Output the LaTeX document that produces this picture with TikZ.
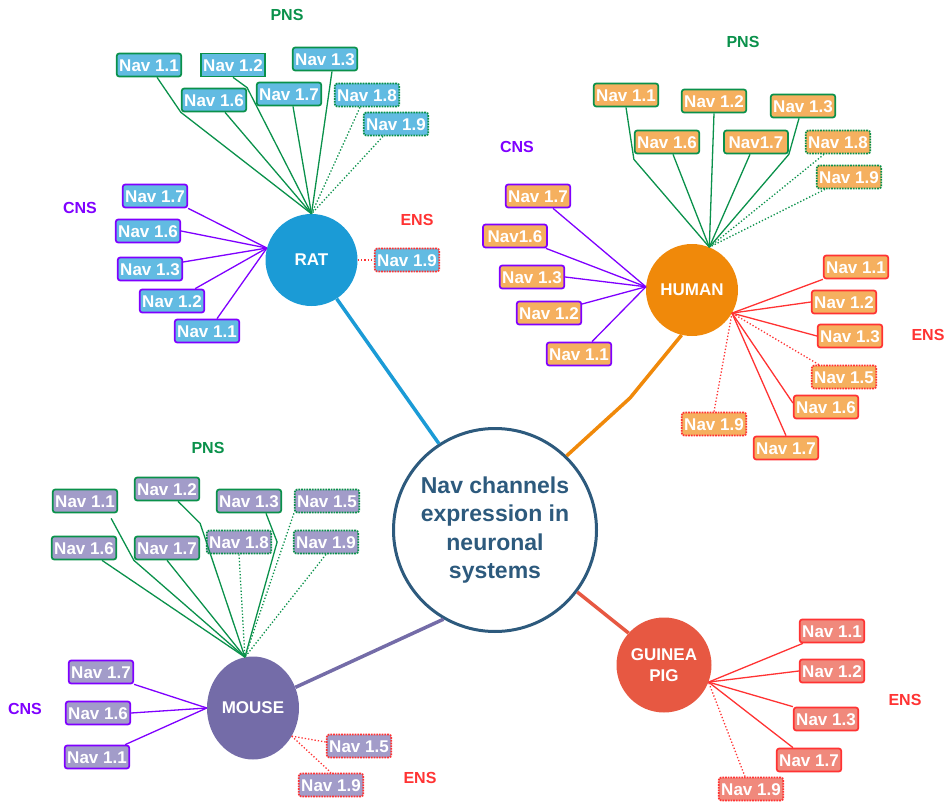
\documentclass[tikz,border=0pt]{standalone}
\usepackage{fontspec}
\setmainfont{Liberation Sans}
\usetikzlibrary{shapes.geometric}

\definecolor{pnsgreen}{RGB}{10,145,75}
\definecolor{cnspurple}{RGB}{127,0,255}
\definecolor{ensred}{RGB}{255,51,51}
\definecolor{ratblue}{RGB}{27,155,214}
\definecolor{ratlight}{RGB}{98,187,226}
\definecolor{humorange}{RGB}{240,137,10}
\definecolor{humlight}{RGB}{245,176,95}
\definecolor{mouviolet}{RGB}{116,108,168}
\definecolor{moulight}{RGB}{162,156,201}
\definecolor{guired}{RGB}{231,88,66}
\definecolor{guilight}{RGB}{240,137,124}
\definecolor{hubnavy}{RGB}{45,90,125}

\begin{document}
\begin{tikzpicture}[x=1pt,y=-1pt,
    nav/.style={draw, rounded corners=2.5pt, line width=1.7pt, text=white,
        font=\bfseries\fontsize{17}{17}\selectfont, inner xsep=2.5pt, inner ysep=0pt,
        minimum width=64pt, minimum height=23pt, text height=12.5pt, text depth=0pt},
    ratbox/.style={nav, fill=ratlight},
    humbox/.style={nav, fill=humlight},
    moubox/.style={nav, fill=moulight},
    guibox/.style={nav, fill=guilight},
    wire/.style={line width=1.3pt},
    pnswire/.style={wire, pnsgreen},
    cnswire/.style={wire, cnspurple},
    enswire/.style={wire, ensred},
    trunk/.style={line width=3.5pt},
    lab/.style={font=\bfseries\fontsize{16}{16}\selectfont},
    animal/.style={circle, inner sep=0pt, text=white, align=center,
        font=\bfseries\fontsize{17}{21}\selectfont}]
    \useasboundingbox (0,0) rectangle (947,802);

    % centre and animals
    \node[circle, draw=hubnavy, line width=3pt, minimum size=203pt, inner sep=0pt, align=center,
        text=hubnavy, font=\bfseries\fontsize{23}{28.5}\selectfont] (nav) at (495,530)
        {Nav channels\\expression in\\neuronal\\systems};
    \node[animal, fill=ratblue, minimum size=92pt] (rat) at (311.5,260) {RAT};
    \node[animal, fill=humorange, minimum size=92pt] (human) at (692,290) {HUMAN};
    \node[animal, ellipse, fill=mouviolet, minimum width=92pt, minimum height=103pt] (mouse) at (253,708) {MOUSE};
    \node[animal, fill=guired, minimum size=95pt] (guinea) at (664,665) {GUINEA\\PIG};

    \draw[trunk, ratblue] (nav.123) -- (rat.303.5);
    \draw[trunk, humorange] (nav.46) -- (630,398) -- (human.257);
    \draw[trunk, mouviolet] (nav.240) -- (mouse.26);
    \draw[trunk, guired] (nav.323) -- (guinea.138);

    % labels
    \foreach \n/\x/\y/\t/\c in {ratpns/287/15/PNS/pnsgreen, ratcns/80/208/CNS/cnspurple, ratens/417/220/ENS/ensred,
        humpns/743/42/PNS/pnsgreen, humcns/517/147/CNS/cnspurple, humens/928/335/ENS/ensred,
        moupns/208/448/PNS/pnsgreen, moucns/25/709/CNS/cnspurple, mouens/420/778/ENS/ensred,
        guiens/905/700/ENS/ensred}
        \node[lab, \c] (\n) at (\x,\y) {\t};

    % rat
    \foreach \n/\x/\y/\t/\s in {r11/149/65/Nav 1.1/solid, r12/233/65/Nav 1.2/sharp corners, r13/325/59/Nav 1.3/solid,
        r16/214/100/Nav 1.6/solid, r17/289/94/Nav 1.7/solid, r18/367/95/Nav 1.8/densely dotted, r19/396/124/Nav 1.9/densely dotted}
        \node[ratbox, draw=pnsgreen, \s] (\n) at (\x,\y) {\t};
    \foreach \n/\x/\y/\t in {rc7/155/196/Nav 1.7, rc6/148/231/Nav 1.6, rc3/150/269/Nav 1.3, rc2/172/301/Nav 1.2, rc1/207/331/Nav 1.1}
        \node[ratbox, draw=cnspurple] (\n) at (\x,\y) {\t};
    \node[ratbox, draw=ensred, densely dotted] (re9) at (407,260) {Nav 1.9};

    \draw[pnswire] ([xshift=8pt]r11.south) -- (r16.south west) -- (rat.north);
    \draw[pnswire] (r12.south) -- (r16.north east) -- (rat.north);
    \draw[pnswire] ([xshift=11pt]r16.south) -- (rat.north);
    \draw[pnswire] ([xshift=4pt]r17.south) -- (rat.north);
    \draw[pnswire] ([xshift=7pt]r13.south) -- (rat.north);
    \draw[pnswire, dotted] ([xshift=-7pt]r18.south) -- (rat.north);
    \draw[pnswire, dotted] ([xshift=-13pt]r19.south) -- (rat.north);
    \draw[cnswire] (rc7.south east) -- (rat.165);
    \draw[cnswire] (rc6.east) -- (rat.165);
    \draw[cnswire] ([yshift=7pt]rc3.east) -- (rat.165);
    \draw[cnswire] ([xshift=-10pt]rc2.north east) -- (rat.165);
    \draw[cnswire] ([xshift=10pt]rc1.north) -- (rat.165);
    \draw[enswire, dotted] (rat.east) -- (re9.west);

    % human
    \foreach \n/\x/\y/\t/\s in {h11/626/95/Nav 1.1/solid, h12/714/101/Nav 1.2/solid, h13/803/106/Nav 1.3/solid,
        h16/667/142/Nav 1.6/solid, h17/756/142/Nav1.7/solid, h18/838/142/Nav 1.8/densely dotted, h19/849/177/Nav 1.9/densely dotted}
        \node[humbox, draw=pnsgreen, \s] (\n) at (\x,\y) {\t};
    \foreach \n/\x/\y/\t in {hc7/538/196/Nav 1.7, hc6/515/236/Nav1.6, hc3/532/277/Nav 1.3, hc2/549/313/Nav 1.2, hc1/579/354/Nav 1.1}
        \node[humbox, draw=cnspurple] (\n) at (\x,\y) {\t};
    \foreach \n/\x/\y/\t/\s in {he1/856/267/Nav 1.1/solid, he2/844/302/Nav 1.2/solid, he3/850/336/Nav 1.3/solid,
        he5/844/377/Nav 1.5/densely dotted, he6/826/407/Nav 1.6/solid, he7/786/448/Nav 1.7/solid, he9/714/424/Nav 1.9/densely dotted}
        \node[humbox, draw=ensred, \s] (\n) at (\x,\y) {\t};

    \draw[pnswire] (h11.south) -- ([yshift=-5pt]h16.south west) -- (human.68);
    \draw[pnswire] ([xshift=6pt]h16.south) -- (human.68);
    \draw[pnswire] (h12.south) -- (human.68);
    \draw[pnswire] ([xshift=-6pt]h17.south) -- (human.68);
    \draw[pnswire] ([xshift=-4pt]h13.south) -- (h17.south east) -- (human.68);
    \draw[pnswire, dotted] ([xshift=-14pt]h18.south) -- (human.68);
    \draw[pnswire, dotted] ([xshift=-24pt]h19.south) -- (human.68);
    \draw[cnswire] ([xshift=15pt]hc7.south) -- (human.176);
    \draw[cnswire] ([xshift=-2pt]hc6.south east) -- (human.176);
    \draw[cnswire] (hc3.east) -- (human.176);
    \draw[cnswire] ([yshift=9pt]hc2.east) -- (human.176);
    \draw[cnswire] ([xshift=13pt]hc1.north) -- (human.176);
    \draw[enswire] (he1.south west) -- (human.330);
    \draw[enswire] (he2.west) -- (human.330);
    \draw[enswire] (he3.west) -- (human.330);
    \draw[enswire, dotted] ([xshift=8pt]he5.north west) -- (human.330);
    \draw[enswire] ([yshift=4pt]he6.west) -- (human.330);
    \draw[enswire] (he7.north) -- (human.330);
    \draw[enswire, dotted] (he9.north) -- (human.330);

    % mouse
    \foreach \n/\x/\y/\t/\s in {m11/85/501/Nav 1.1/solid, m12/167/489/Nav 1.2/solid, m13/249/501/Nav 1.3/solid,
        m15/327/501/Nav 1.5/densely dotted, m16/84/548/Nav 1.6/solid, m17/167/548/Nav 1.7/solid,
        m18/239/542/Nav 1.8/densely dotted, m19/326/542/Nav 1.9/densely dotted}
        \node[moubox, draw=pnsgreen, \s] (\n) at (\x,\y) {\t};
    \foreach \n/\x/\y/\t in {mc7/101/672/Nav 1.7, mc6/98/713/Nav 1.6, mc1/97/757/Nav 1.1}
        \node[moubox, draw=cnspurple] (\n) at (\x,\y) {\t};
    \foreach \n/\x/\y/\t in {me5/359/746/Nav 1.5, me9/331/785/Nav 1.9}
        \node[moubox, draw=ensred, densely dotted] (\n) at (\x,\y) {\t};

    \draw[pnswire] ([xshift=-7pt,yshift=-5pt]m11.south east) -- (m17.south west) -- (mouse.99);
    \draw[pnswire] ([xshift=18pt]m16.south) -- (mouse.99);
    \draw[pnswire] (m17.south) -- (mouse.99);
    \draw[pnswire] ([xshift=11pt]m12.south) -- ([yshift=-22pt]m12.south east) -- (mouse.99);
    \draw[pnswire] ([xshift=17pt]m13.south) -- ([xshift=5pt]m18.east) -- (mouse.99);
    \draw[pnswire, dotted] (m18.south) -- (mouse.99);
    \draw[pnswire, dotted] (m15.south west) -- (mouse.99);
    \draw[pnswire, dotted] (m19.south) -- (mouse.99);
    \draw[cnswire] (mc7.south east) -- (mouse.west);
    \draw[cnswire] (mc6.east) -- (mouse.west);
    \draw[cnswire] ([xshift=-5pt]mc1.north east) -- (mouse.west);
    \draw[enswire, dotted] (mouse.324) -- ([yshift=4pt]me5.west);
    \draw[enswire, dotted] (mouse.324) -- (me9.north);

    % guinea pig
    \foreach \n/\x/\y/\t/\s in {g11/832/631/Nav 1.1/solid, g12/832/671/Nav 1.2/solid, g13/826/719/Nav 1.3/solid,
        g17/809/760/Nav 1.7/solid, g19/751/789/Nav 1.9/densely dotted}
        \node[guibox, draw=ensred, \s] (\n) at (\x,\y) {\t};

    \draw[enswire] ([xshift=4pt]g11.south west) -- (guinea.339);
    \draw[enswire] (g12.west) -- (guinea.339);
    \draw[enswire] (g13.north west) -- (guinea.339);
    \draw[enswire] ([xshift=-16pt]g17.north) -- (guinea.339);
    \draw[enswire, dotted] ([xshift=-6pt]g19.north) -- (guinea.339);
\end{tikzpicture}
\end{document}
